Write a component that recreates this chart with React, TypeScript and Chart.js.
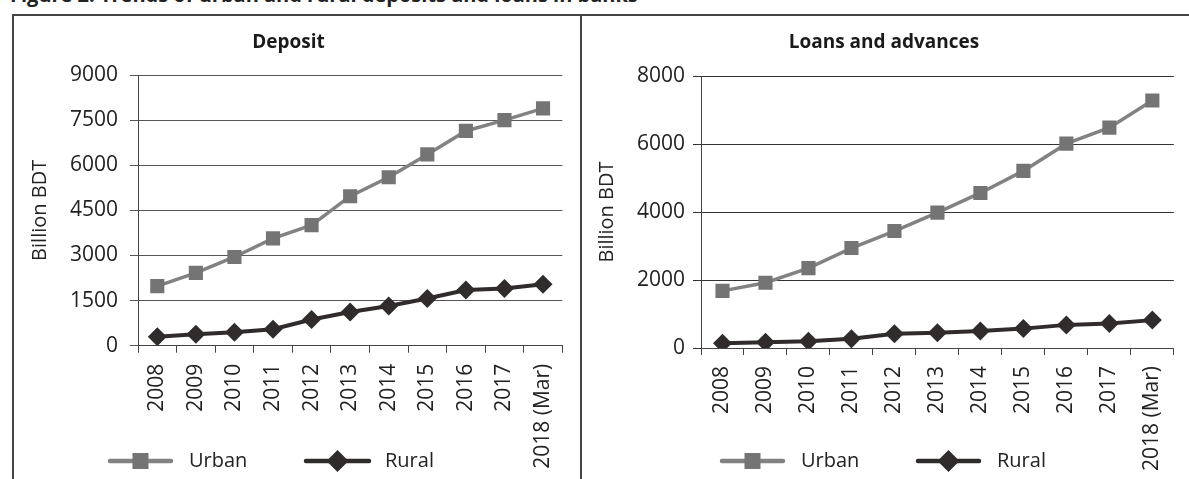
import React, { useEffect, useRef } from "react";
import { Chart, registerables } from "chart.js";

Chart.register(...registerables);

// ---------- data ----------
const categories = ["2008", "2009", "2010", "2011", "2012", "2013", "2014", "2015", "2016", "2017", "2018 (Mar)"];
const depositUrban = [1980, 2420, 2950, 3570, 4010, 4970, 5600, 6360, 7140, 7500, 7890];
const depositRural = [300, 380, 450, 550, 870, 1120, 1320, 1570, 1850, 1900, 2040];
const loansUrban = [1680, 1920, 2350, 2940, 3440, 3980, 4560, 5210, 6010, 6480, 7280];
const loansRural = [140, 170, 200, 270, 420, 450, 500, 570, 680, 720, 820];
const depositAxis = { max: 9000, step: 1500 };
const loansAxis = { max: 8000, step: 2000 };
const seriesNames = ["Urban", "Rural"];
const yAxisTitle = "Billion BDT";
const figureCaption = "Figure 2: Trends of urban and rural deposits and loans in banks";

const FONT = "'Open Sans', 'DejaVu Sans', sans-serif";
const TEXT = "#222";
const URBAN_LINE = "#828282";
const URBAN_MARK = "#747474";
const RURAL = "#302c2c";

const lineLegend = {
  id: "lineLegend",
  afterDraw(chart: any, _args: any, opts: any) {
    const ctx = chart.ctx;
    const y = opts.y;
    chart.data.datasets.forEach((ds: any, i: number) => {
      const it = opts.items[i];
      ctx.save();
      ctx.strokeStyle = ds.borderColor;
      ctx.lineWidth = 4.5;
      ctx.lineCap = "round";
      ctx.beginPath();
      ctx.moveTo(it.x0, y);
      ctx.lineTo(it.x1, y);
      ctx.stroke();
      const cx = (it.x0 + it.x1) / 2;
      ctx.fillStyle = ds.pointBackgroundColor;
      if (ds.pointStyle === "rect") {
        const s = 16;
        ctx.fillRect(cx - s / 2, y - s / 2, s, s);
      } else {
        const r = 11;
        ctx.beginPath();
        ctx.moveTo(cx, y - r);
        ctx.lineTo(cx + r, y);
        ctx.lineTo(cx, y + r);
        ctx.lineTo(cx - r, y);
        ctx.closePath();
        ctx.fill();
      }
      ctx.font = `20px ${FONT}`;
      ctx.fillStyle = TEXT;
      ctx.textBaseline = "middle";
      ctx.textAlign = "left";
      ctx.fillText(ds.label, it.tx, y);
      ctx.restore();
    });
  },
};

type PanelProps = {
  title: string;
  urban: number[];
  rural: number[];
  axis: { max: number; step: number };
  width: number;
  height: number;
  yWidth: number;
  xHeight: number;
  padRight: number;
  titlePadTop: number;
  titlePadBottom: number;
  yTitlePad: number;
  tickPad: number;
  gridColor: string;
  legendItems: { x0: number; x1: number; tx: number }[];
  legendY: number;
};

function Panel(p: PanelProps) {
  const ref = useRef<HTMLCanvasElement>(null);
  useEffect(() => {
    if (!ref.current) return;
    const font = { family: FONT, size: 20 };
    const tickFont = { family: FONT, size: 21 };
    const chart = new Chart(ref.current, {
      type: "line",
      data: {
        labels: categories,
        datasets: [
          {
            label: seriesNames[0],
            data: p.urban,
            borderColor: URBAN_LINE,
            backgroundColor: URBAN_MARK,
            pointBackgroundColor: URBAN_MARK,
            pointBorderColor: URBAN_MARK,
            pointBorderWidth: 0,
            pointStyle: "rect",
            pointRadius: 10,
            borderWidth: 3.5,
            tension: 0,
          },
          {
            label: seriesNames[1],
            data: p.rural,
            borderColor: RURAL,
            backgroundColor: RURAL,
            pointBackgroundColor: RURAL,
            pointBorderColor: RURAL,
            pointBorderWidth: 0,
            pointStyle: "rectRot",
            pointRadius: 9.5,
            borderWidth: 4,
            tension: 0,
          },
        ],
      },
      options: {
        animation: false,
        responsive: false,
        maintainAspectRatio: false,
        layout: { padding: { left: 0, right: p.padRight, top: 0, bottom: 0 } },
        plugins: {
          legend: { display: false },
          tooltip: { enabled: false },
          title: {
            display: true,
            text: p.title,
            color: "#1a1a1a",
            font: { family: FONT, size: 19, weight: "bold", lineHeight: 1.2 },
            padding: { top: p.titlePadTop, bottom: p.titlePadBottom },
          },
          lineLegend: { items: p.legendItems, y: p.legendY },
        } as any,
        scales: {
          x: {
            type: "category",
            offset: true,
            grid: { offset: true, drawOnChartArea: false, drawTicks: true, tickLength: 7, color: "#444" },
            border: { color: "#444", width: 1 },
            ticks: { autoSkip: false, minRotation: 90, maxRotation: 90, padding: 11, font: tickFont, color: TEXT },
            afterFit: (s: any) => {
              s.height = p.xHeight;
            },
          },
          y: {
            min: 0,
            max: p.axis.max,
            ticks: {
              stepSize: p.axis.step,
              padding: p.tickPad,
              font: tickFont,
              color: TEXT,
              callback: (v: any) => String(v),
            },
            grid: { color: p.gridColor, tickLength: 8, lineWidth: 1 },
            border: { color: "#444", width: 1 },
            title: {
              display: true,
              text: yAxisTitle,
              font: { ...font, lineHeight: 1.2 },
              color: TEXT,
              padding: { top: p.yTitlePad, bottom: 0 },
            },
            afterFit: (s: any) => {
              s.width = p.yWidth;
            },
          },
        },
      },
      plugins: [lineLegend as any],
    });
    return () => chart.destroy();
  }, []);
  return <canvas ref={ref} width={p.width} height={p.height} style={{ display: "block", width: p.width, height: p.height }} />;
}

export default function App() {
  return (
    <div
      style={{
        position: "fixed",
        left: 0,
        top: 0,
        width: 1189,
        height: 479,
        overflow: "hidden",
        background: "#fff",
      }}
    >
      <div
        style={{
          position: "absolute",
          left: 10,
          top: -17,
          whiteSpace: "nowrap",
          fontFamily: FONT,
          fontWeight: "bold",
          fontSize: 20,
          lineHeight: "24px",
          color: "#222",
        }}
      >
        {figureCaption}
      </div>
      <div
        style={{
          position: "absolute",
          left: 12,
          top: 14,
          width: 566,
          height: 520,
          borderLeft: "2px solid #444",
          borderTop: "2px solid #444",
          borderRight: "2px solid #444",
        }}
      />
      <div
        style={{
          position: "absolute",
          left: 580,
          top: 14,
          width: 640,
          height: 520,
          borderTop: "2px solid #444",
        }}
      />
      <div style={{ position: "absolute", left: 14, top: 16 }}>
        <Panel
          title="Deposit"
          urban={depositUrban}
          rural={depositRural}
          axis={depositAxis}
          width={566}
          height={463}
          yWidth={124}
          xHeight={133.3}
          padRight={17}
          titlePadTop={15.6}
          titlePadBottom={20.6}
          yTitlePad={14}
          tickPad={12}
          gridColor="#555"
          legendItems={[
            { x0: 96, x1: 157, tx: 175 },
            { x0: 292, x1: 355, tx: 371 },
          ]}
          legendY={445}
        />
      </div>
      <div style={{ position: "absolute", left: 582, top: 16 }}>
        <Panel
          title="Loans and advances"
          urban={loansUrban}
          rural={loansRural}
          axis={loansAxis}
          width={607}
          height={463}
          yWidth={119}
          xHeight={131}
          padRight={3}
          titlePadTop={15.6}
          titlePadBottom={21.6}
          yTitlePad={13}
          tickPad={8}
          gridColor="#333"
          legendItems={[
            { x0: 140, x1: 201, tx: 219 },
            { x0: 336, x1: 397, tx: 415 },
          ]}
          legendY={445}
        />
      </div>
    </div>
  );
}
